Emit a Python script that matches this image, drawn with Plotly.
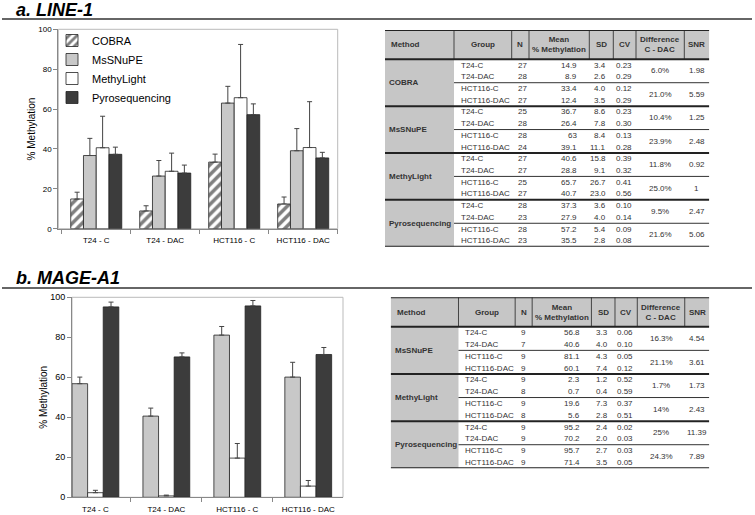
import plotly.graph_objects as go

W, H = 755, 515
FONT = "Liberation Sans, Arial, sans-serif"

# ---------------- data ----------------
groups_axis = ["T24 - C", "T24 - DAC", "HCT116 - C", "HCT116 - DAC"]
groups_table = ["T24-C", "T24-DAC", "HCT116-C", "HCT116-DAC"]
table_headers = ["Method", "Group", "N", "Mean<br>% Methylation", "SD", "CV",
                 "Difference<br>C - DAC", "SNR"]

# LINE-1
line1_methods = ["COBRA", "MsSNuPE", "MethyLight", "Pyrosequencing"]
line1_n = [[27, 28, 27, 27], [25, 28, 28, 24], [27, 27, 25, 27], [28, 23, 28, 23]]
line1_mean = [[14.9, 8.9, 33.4, 12.4], [36.7, 26.4, 63, 39.1],
              [40.6, 28.8, 65.7, 40.7], [37.3, 27.9, 57.2, 35.5]]
line1_sd = [[3.4, 2.6, 4.0, 3.5], [8.6, 7.8, 8.4, 11.1],
            [15.8, 9.1, 26.7, 23.0], [3.6, 4.0, 5.4, 2.8]]
line1_cv = [[0.23, 0.29, 0.12, 0.29], [0.23, 0.30, 0.13, 0.28],
            [0.39, 0.32, 0.41, 0.56], [0.10, 0.14, 0.09, 0.08]]
line1_diff = [[6.0, 21.0], [10.4, 23.9], [11.8, 25.0], [9.5, 21.6]]
line1_snr = [[1.98, 5.59], [1.25, 2.48], [0.92, 1], [2.47, 5.06]]

# MAGE-A1
mage_methods = ["MsSNuPE", "MethyLight", "Pyrosequencing"]
mage_n = [[9, 7, 9, 9], [9, 8, 9, 8], [9, 9, 9, 9]]
mage_mean = [[56.8, 40.6, 81.1, 60.1], [2.3, 0.7, 19.6, 5.6], [95.2, 70.2, 95.7, 71.4]]
mage_sd = [[3.3, 4.0, 4.3, 7.4], [1.2, 0.4, 7.3, 2.8], [2.4, 2.0, 2.7, 3.5]]
mage_cv = [[0.06, 0.10, 0.05, 0.12], [0.52, 0.59, 0.37, 0.51], [0.02, 0.03, 0.03, 0.05]]
mage_diff = [[16.3, 21.1], [1.7, 14], [25, 24.3]]
mage_snr = [[4.54, 3.61], [1.73, 2.43], [11.39, 7.89]]

# ---------------- styles ----------------
GRAY = "#c6c6c6"
TXT = "#333333"
bar_style = {
    "COBRA": dict(color="white",
                  pattern=dict(shape="/", fgcolor="black", bgcolor="white",
                               size=7, solidity=0.5)),
    "MsSNuPE": dict(color="#c8c8c8"),
    "MethyLight": dict(color="white"),
    "Pyrosequencing": dict(color="#3c3c3c"),
}


def px(v):
    return v / W


def py(v):
    return 1 - v / H


fig = go.Figure()


def add_bars(methods, means, sds, xa, ya, legend, group_w):
    k = len(methods)
    bw = group_w / k
    for i, (m, vals, errs) in enumerate(zip(methods, means, sds)):
        mk = dict(bar_style[m])
        mk["line"] = dict(color="#222222", width=0.8)
        fig.add_trace(go.Bar(
            x=groups_axis, y=vals, name=m, marker=mk,
            width=bw, offset=-group_w / 2 + i * bw,
            xaxis=xa, yaxis=ya, showlegend=legend,
            error_y=dict(type="data", array=errs, arrayminus=[0] * len(errs),
                         symmetric=False, color="#444444", thickness=1, width=2.5),
        ))


add_bars(line1_methods, line1_mean, line1_sd, "x", "y", True, 0.74)
add_bars(mage_methods, mage_mean, mage_sd, "x2", "y2", False, 0.66)

# empty traces so table axes exist
fig.add_trace(go.Scatter(x=[], y=[], xaxis="x3", yaxis="y3", showlegend=False))
fig.add_trace(go.Scatter(x=[], y=[], xaxis="x4", yaxis="y4", showlegend=False))

shapes = []
annotations = []

# ---------------- tables ----------------
col_w = [69.0, 57.7, 17.3, 60.3, 24.0, 22.7, 48.3, 25.0]
HEAD = 2.5


def add_table(an, methods, n, mean, sd, cv, diff, snr):
    xr, yr = "x" + an, "y" + an
    edges = [0.0]
    for w in col_w:
        edges.append(edges[-1] + w)
    tw = edges[-1]
    nrow = 4 * len(methods)
    th = HEAD + nrow

    def ln(x0, y0, x1, y1, w, c):
        shapes.append(dict(type="line", xref=xr, yref=yr, x0=x0, y0=y0, x1=x1, y1=y1,
                           line=dict(color=c, width=w)))

    shapes.append(dict(type="rect", xref=xr, yref=yr, x0=0, x1=tw, y0=0, y1=HEAD,
                       fillcolor=GRAY, line_width=0, layer="below"))
    shapes.append(dict(type="rect", xref=xr, yref=yr, x0=0, x1=edges[1], y0=HEAD, y1=th,
                       fillcolor=GRAY, line_width=0, layer="below"))
    for e in edges[1:-1]:
        ln(e, 0, e, HEAD, 1, "#444444")
    ln(0, 0, tw, 0, 2, "#222222")
    ln(0, HEAD, tw, HEAD, 2, "#222222")
    for mi in range(len(methods)):
        ln(edges[1], HEAD + 4 * mi + 2, tw, HEAD + 4 * mi + 2, 1, "#333333")
        ln(0, HEAD + 4 * mi + 4, tw, HEAD + 4 * mi + 4, 2, "#222222")

    def txt(x, y, t, anchor, bold=False):
        annotations.append(dict(xref=xr, yref=yr, x=x, y=y, text=("<b>%s</b>" % t) if bold else t,
                                showarrow=False, xanchor=anchor, yanchor="middle",
                                font=dict(family=FONT, size=8, color=TXT)))

    for j, h in enumerate(table_headers):
        if j == 0:
            txt(edges[0] + 4, HEAD / 2, h, "left", True)
        else:
            txt((edges[j] + edges[j + 1]) / 2, HEAD / 2, h, "center", True)

    for mi, m in enumerate(methods):
        txt(2, HEAD + 4 * mi + 2, m, "left", True)
        for gi in range(4):
            r = HEAD + 4 * mi + gi + 0.5
            txt(edges[1] + 5, r, groups_table[gi], "left")
            txt(edges[2] + 4, r, str(n[mi][gi]), "left")
            txt(edges[4] - 10, r, str(mean[mi][gi]), "right")
            txt(edges[5] - 5, r, "%.1f" % sd[mi][gi], "right")
            txt(edges[6] - 2, r, "%.2f" % cv[mi][gi], "right")
        for p in range(2):
            r = HEAD + 4 * mi + 2 * p + 1
            txt((edges[6] + edges[7]) / 2, r, str(diff[mi][p]) + "%", "center")
            txt((edges[7] + edges[8]) / 2, r, str(snr[mi][p]), "center")
    return tw, th


tw3, th3 = add_table("3", line1_methods, line1_n, line1_mean, line1_sd, line1_cv,
                     line1_diff, line1_snr)
tw4, th4 = add_table("4", mage_methods, mage_n, mage_mean, mage_sd, mage_cv,
                     mage_diff, mage_snr)

# ---------------- section titles & rules ----------------
for ttl, ty, ly in [("a. LINE-1", 10, 19), ("b. MAGE-A1", 278, 288)]:
    annotations.append(dict(xref="paper", yref="paper", x=px(14), y=py(ty),
                            text="<b><i>%s</i></b>" % ttl, showarrow=False,
                            xanchor="left", yanchor="middle",
                            font=dict(family=FONT, size=18, color="black")))
    shapes.append(dict(type="line", xref="paper", yref="paper", x0=px(2), x1=px(752),
                       y0=py(ly), y1=py(ly), line=dict(color="#666666", width=2)))

# plot frames
for xa in ["x", "x2"]:
    ya = xa.replace("x", "y")
    shapes.append(dict(type="rect", xref=xa + " domain", yref=ya + " domain",
                       x0=0, x1=1, y0=0, y1=1, line=dict(color="#bbbbbb", width=1),
                       layer="below"))


def xaxis_cfg(dom, rng):
    return dict(domain=dom, range=rng, type="category", showline=True,
                linecolor="#888888", linewidth=1, ticks="outside", tickson="boundaries",
                ticklen=4, tickcolor="#888888", showgrid=False, zeroline=False,
                ticklabelstandoff=4,
                tickfont=dict(family=FONT, size=8, color="black"), automargin=False)


def yaxis_cfg(dom, fs, tfs):
    return dict(domain=dom, range=[0, 100], dtick=20, showline=True, linecolor="#888888",
                linewidth=1, ticks="outside", ticklen=4, tickcolor="#888888",
                showgrid=False, zeroline=False, automargin=False,
                tickfont=dict(family=FONT, size=fs, color="black"),
                title=dict(text="% Methylation", standoff=0,
                           font=dict(family=FONT, size=tfs, color="black")))


fig.update_layout(
    width=W, height=H, margin=dict(l=0, r=0, t=0, b=0),
    paper_bgcolor="white", plot_bgcolor="white",
    barmode="group",
    font=dict(family=FONT, color="black"),
    xaxis=dict(xaxis_cfg([px(58.3), px(337.7)], [-0.55, 3.5])),
    yaxis=dict(yaxis_cfg([py(228.7), py(29.3)], 8, 10)),
    xaxis2=dict(xaxis_cfg([px(72), px(343)], [-0.33, 3.49]), anchor="y2"),
    yaxis2=dict(yaxis_cfg([py(497.3), py(297.3)], 9, 10), anchor="x2"),
    xaxis3=dict(domain=[px(385), px(709.3)], range=[0, tw3], visible=False, anchor="y3"),
    yaxis3=dict(domain=[py(246.7), py(30)], range=[th3, 0], visible=False, anchor="x3"),
    xaxis4=dict(domain=[px(390.7), px(709.3)], range=[0, tw4], visible=False, anchor="y4"),
    yaxis4=dict(domain=[py(468.3), py(297.3)], range=[th4, 0], visible=False, anchor="x4"),
    legend=dict(x=px(52), y=py(26), xanchor="left", yanchor="top",
                bgcolor="rgba(0,0,0,0)", font=dict(family=FONT, size=11, color="black"),
                itemwidth=30, tracegroupgap=0),
    shapes=shapes, annotations=annotations,
)
fig.write_html("out.html", config={"displayModeBar": False},
               post_script="document.body.style.margin='0px';")
